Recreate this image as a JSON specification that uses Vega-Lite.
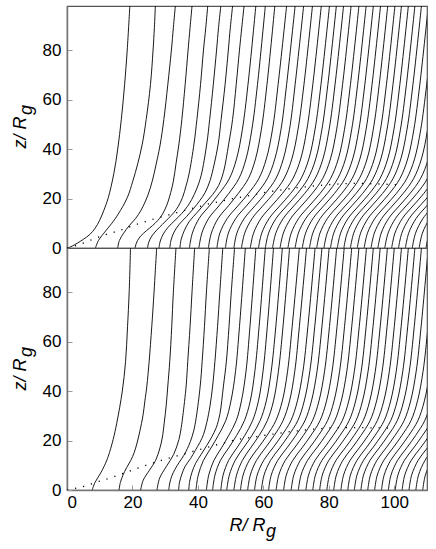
{
"$schema":"https://vega.github.io/schema/vega-lite/v6.json",
"background":"white",
"padding":{"left":10,"top":5,"right":6,"bottom":0},
"spacing":0,
"bounds":"flush",
"config":{
"font":"Liberation Sans",
"view":{"stroke":"#555","strokeWidth":1.2},
"axis":{"grid":false,"domainColor":"#777","domainWidth":1.5,"tickColor":"#999","tickSize":-5,"tickWidth":1,"labelFont":"Liberation Sans","labelFontSize":17,"labelColor":"#000","titleFont":"Liberation Sans","titleFontSize":18,"titleFontWeight":"normal","titleFontStyle":"italic","titleColor":"#000","titleLineHeight":6}
},
"datasets":{
"La":[
{"i":1,"z":0,"r":0.3},{"i":1,"z":0.8,"r":1.6},{"i":1,"z":2,"r":3.2},{"i":1,"z":3.5,"r":5.0},{"i":1,"z":5.5,"r":7.0},{"i":1,"z":8,"r":8.6},{"i":1,"z":11,"r":9.9},{"i":1,"z":15,"r":11.2},{"i":1,"z":20.3,"r":12.6},{"i":1,"z":30,"r":14.3},{"i":1,"z":40,"r":15.5},{"i":1,"z":52,"r":16.6},{"i":1,"z":66,"r":17.6},{"i":1,"z":80,"r":18.4},{"i":1,"z":97.8,"r":19.2},
{"i":2,"z":0,"r":8.7},{"i":2,"z":3,"r":9.6},{"i":2,"z":6.9,"r":11.8},{"i":2,"z":10,"r":13.7},{"i":2,"z":13.6,"r":15.6},{"i":2,"z":20.3,"r":18.4},{"i":2,"z":27,"r":20.1},{"i":2,"z":34,"r":21.6},{"i":2,"z":42,"r":23.0},{"i":2,"z":52,"r":24.2},{"i":2,"z":66,"r":25.5},{"i":2,"z":80,"r":26.3},{"i":2,"z":89,"r":26.7},{"i":2,"z":97.8,"r":27.0},
{"i":3,"z":0,"r":15.5},{"i":3,"z":3,"r":16.0},{"i":3,"z":6,"r":17.3},{"i":3,"z":9,"r":19.0},{"i":3,"z":12,"r":21.0},{"i":3,"z":15,"r":22.5},{"i":3,"z":19,"r":24.0},{"i":3,"z":24,"r":25.4},{"i":3,"z":30,"r":26.6},{"i":3,"z":36,"r":27.6},{"i":3,"z":42,"r":28.5},{"i":3,"z":52,"r":29.6},{"i":3,"z":66,"r":30.8},{"i":3,"z":80,"r":31.9},{"i":3,"z":89,"r":32.5},{"i":3,"z":97.8,"r":33.1},
{"i":4,"z":0,"r":20.8},{"i":4,"z":2,"r":21.2},{"i":4,"z":4,"r":22.0},{"i":4,"z":6,"r":23.4},{"i":4,"z":8,"r":25.2},{"i":4,"z":10,"r":26.9},{"i":4,"z":12,"r":28.3},{"i":4,"z":14,"r":29.3},{"i":4,"z":17,"r":30.4},{"i":4,"z":21,"r":31.4},{"i":4,"z":27,"r":32.5},{"i":4,"z":34,"r":33.3},{"i":4,"z":42,"r":34.2},{"i":4,"z":52,"r":35.1},{"i":4,"z":66,"r":36.1},{"i":4,"z":80,"r":37.0},{"i":4,"z":89,"r":37.6},{"i":4,"z":97.8,"r":38.2},
{"i":5,"z":0,"r":24.6},{"i":5,"z":2.4,"r":25.0},{"i":5,"z":4.8,"r":25.9},{"i":5,"z":7.2,"r":27.4},{"i":5,"z":9.6,"r":29.2},{"i":5,"z":12,"r":31.0},{"i":5,"z":14.4,"r":32.7},{"i":5,"z":16.8,"r":34.0},{"i":5,"z":20.4,"r":35.3},{"i":5,"z":25.2,"r":36.4},{"i":5,"z":30,"r":37.3},{"i":5,"z":42,"r":38.8},{"i":5,"z":52,"r":39.7},{"i":5,"z":66,"r":40.8},{"i":5,"z":80,"r":41.7},{"i":5,"z":89,"r":42.4},{"i":5,"z":97.8,"r":43.0},
{"i":6,"z":0,"r":28.1},{"i":6,"z":2.8,"r":28.5},{"i":6,"z":5.6,"r":29.4},{"i":6,"z":8.4,"r":30.9},{"i":6,"z":11.2,"r":33.0},{"i":6,"z":14,"r":35.1},{"i":6,"z":16.8,"r":36.8},{"i":6,"z":19.6,"r":38.1},{"i":6,"z":23.8,"r":39.6},{"i":6,"z":29.4,"r":41.0},{"i":6,"z":42,"r":42.7},{"i":6,"z":52,"r":43.6},{"i":6,"z":66,"r":44.7},{"i":6,"z":80,"r":45.7},{"i":6,"z":89,"r":46.3},{"i":6,"z":97.8,"r":47.0},
{"i":7,"z":0,"r":31.4},{"i":7,"z":3.2,"r":31.8},{"i":7,"z":6.4,"r":32.7},{"i":7,"z":9.6,"r":34.3},{"i":7,"z":12.8,"r":36.6},{"i":7,"z":16,"r":38.7},{"i":7,"z":19.2,"r":40.6},{"i":7,"z":22.4,"r":42.2},{"i":7,"z":27.2,"r":43.7},{"i":7,"z":34,"r":45.0},{"i":7,"z":42,"r":46.2},{"i":7,"z":52,"r":47.1},{"i":7,"z":66,"r":48.3},{"i":7,"z":80,"r":49.3},{"i":7,"z":89,"r":49.9},{"i":7,"z":97.8,"r":50.6},
{"i":8,"z":0,"r":34.5},{"i":8,"z":3.6,"r":34.9},{"i":8,"z":7.2,"r":35.9},{"i":8,"z":10.8,"r":37.4},{"i":8,"z":14.4,"r":39.8},{"i":8,"z":18,"r":42.1},{"i":8,"z":21.6,"r":44.5},{"i":8,"z":25.2,"r":46.3},{"i":8,"z":30.6,"r":47.8},{"i":8,"z":42,"r":49.4},{"i":8,"z":52,"r":50.6},{"i":8,"z":66,"r":51.7},{"i":8,"z":80,"r":52.7},{"i":8,"z":89,"r":53.4},{"i":8,"z":97.8,"r":54.1},
{"i":9,"z":0,"r":37.4},{"i":9,"z":6,"r":38.3},{"i":9,"z":12,"r":40.4},{"i":9,"z":17,"r":43.5},{"i":9,"z":22,"r":46.5},{"i":9,"z":28,"r":49.6},{"i":9,"z":36,"r":51.8},{"i":9,"z":48,"r":53.6},{"i":9,"z":66,"r":55.3},{"i":9,"z":97.8,"r":57.7},
{"i":10,"z":0,"r":40.3},{"i":10,"z":6,"r":41.2},{"i":10,"z":12,"r":43.3},{"i":10,"z":17,"r":46.4},{"i":10,"z":22,"r":49.4},{"i":10,"z":28,"r":52.5},{"i":10,"z":36,"r":54.7},{"i":10,"z":48,"r":56.5},{"i":10,"z":66,"r":58.2},{"i":10,"z":97.8,"r":60.6},
{"i":11,"z":0,"r":43.2},{"i":11,"z":6,"r":44.1},{"i":11,"z":12,"r":46.2},{"i":11,"z":17,"r":49.3},{"i":11,"z":22,"r":52.3},{"i":11,"z":28,"r":55.4},{"i":11,"z":36,"r":57.6},{"i":11,"z":48,"r":59.4},{"i":11,"z":66,"r":61.1},{"i":11,"z":97.8,"r":63.5},
{"i":12,"z":0,"r":45.8},{"i":12,"z":6,"r":46.7},{"i":12,"z":12,"r":49.0},{"i":12,"z":17,"r":52.2},{"i":12,"z":22,"r":55.4},{"i":12,"z":28,"r":58.6},{"i":12,"z":36,"r":60.9},{"i":12,"z":48,"r":62.8},{"i":12,"z":66,"r":64.5},{"i":12,"z":97.8,"r":67.1},
{"i":13,"z":0,"r":48.4},{"i":13,"z":6,"r":49.3},{"i":13,"z":12,"r":51.6},{"i":13,"z":17,"r":54.8},{"i":13,"z":22,"r":58.0},{"i":13,"z":28,"r":61.2},{"i":13,"z":36,"r":63.5},{"i":13,"z":48,"r":65.4},{"i":13,"z":66,"r":67.1},{"i":13,"z":97.8,"r":69.7},
{"i":14,"z":0,"r":51.0},{"i":14,"z":6,"r":51.9},{"i":14,"z":12,"r":54.2},{"i":14,"z":17,"r":57.4},{"i":14,"z":22,"r":60.6},{"i":14,"z":28,"r":63.8},{"i":14,"z":36,"r":66.1},{"i":14,"z":48,"r":68.0},{"i":14,"z":66,"r":69.7},{"i":14,"z":97.8,"r":72.3},
{"i":15,"z":0,"r":53.3},{"i":15,"z":6,"r":54.3},{"i":15,"z":12,"r":56.6},{"i":15,"z":17,"r":59.8},{"i":15,"z":22,"r":63.1},{"i":15,"z":28,"r":66.3},{"i":15,"z":36,"r":68.7},{"i":15,"z":48,"r":70.6},{"i":15,"z":66,"r":72.4},{"i":15,"z":97.8,"r":75.0},
{"i":16,"z":0,"r":56.0},{"i":16,"z":6,"r":57.0},{"i":16,"z":12,"r":59.3},{"i":16,"z":17,"r":62.5},{"i":16,"z":22,"r":65.8},{"i":16,"z":28,"r":69.0},{"i":16,"z":36,"r":71.4},{"i":16,"z":48,"r":73.3},{"i":16,"z":66,"r":75.1},{"i":16,"z":97.8,"r":77.7},
{"i":17,"z":0,"r":58.5},{"i":17,"z":6,"r":59.5},{"i":17,"z":12,"r":61.8},{"i":17,"z":17,"r":65.0},{"i":17,"z":22,"r":68.3},{"i":17,"z":28,"r":71.5},{"i":17,"z":36,"r":73.9},{"i":17,"z":48,"r":75.8},{"i":17,"z":66,"r":77.6},{"i":17,"z":97.8,"r":80.2},
{"i":18,"z":0,"r":60.6},{"i":18,"z":6,"r":61.6},{"i":18,"z":12,"r":63.9},{"i":18,"z":17,"r":67.1},{"i":18,"z":22,"r":70.4},{"i":18,"z":28,"r":73.6},{"i":18,"z":36,"r":76.0},{"i":18,"z":48,"r":77.9},{"i":18,"z":66,"r":79.7},{"i":18,"z":97.8,"r":82.3},
{"i":19,"z":0,"r":62.8},{"i":19,"z":6,"r":63.8},{"i":19,"z":12,"r":66.1},{"i":19,"z":17,"r":69.3},{"i":19,"z":22,"r":72.6},{"i":19,"z":28,"r":75.8},{"i":19,"z":36,"r":78.2},{"i":19,"z":48,"r":80.1},{"i":19,"z":66,"r":81.9},{"i":19,"z":97.8,"r":84.5},
{"i":20,"z":0,"r":65.1},{"i":20,"z":6,"r":66.1},{"i":20,"z":12,"r":68.4},{"i":20,"z":17,"r":71.6},{"i":20,"z":22,"r":74.9},{"i":20,"z":28,"r":78.1},{"i":20,"z":36,"r":80.5},{"i":20,"z":48,"r":82.4},{"i":20,"z":66,"r":84.2},{"i":20,"z":97.8,"r":86.8},
{"i":21,"z":0,"r":67.5},{"i":21,"z":6,"r":68.5},{"i":21,"z":12,"r":70.8},{"i":21,"z":17,"r":74.0},{"i":21,"z":22,"r":77.3},{"i":21,"z":28,"r":80.5},{"i":21,"z":36,"r":82.9},{"i":21,"z":48,"r":84.8},{"i":21,"z":66,"r":86.6},{"i":21,"z":97.8,"r":89.2},
{"i":22,"z":0,"r":69.7},{"i":22,"z":6,"r":70.7},{"i":22,"z":12,"r":73.0},{"i":22,"z":17,"r":76.2},{"i":22,"z":22,"r":79.5},{"i":22,"z":28,"r":82.7},{"i":22,"z":36,"r":85.1},{"i":22,"z":48,"r":87.0},{"i":22,"z":66,"r":88.8},{"i":22,"z":97.8,"r":91.4},
{"i":23,"z":0,"r":71.9},{"i":23,"z":6,"r":72.9},{"i":23,"z":12,"r":75.2},{"i":23,"z":17,"r":78.4},{"i":23,"z":22,"r":81.7},{"i":23,"z":28,"r":84.9},{"i":23,"z":36,"r":87.3},{"i":23,"z":48,"r":89.2},{"i":23,"z":66,"r":91.0},{"i":23,"z":97.8,"r":93.6},
{"i":24,"z":0,"r":74.1},{"i":24,"z":6,"r":75.1},{"i":24,"z":12,"r":77.4},{"i":24,"z":17,"r":80.6},{"i":24,"z":22,"r":83.9},{"i":24,"z":28,"r":87.1},{"i":24,"z":36,"r":89.5},{"i":24,"z":48,"r":91.4},{"i":24,"z":66,"r":93.2},{"i":24,"z":97.8,"r":95.8},
{"i":25,"z":0,"r":76.3},{"i":25,"z":6,"r":77.3},{"i":25,"z":12,"r":79.6},{"i":25,"z":17,"r":82.8},{"i":25,"z":22,"r":86.1},{"i":25,"z":28,"r":89.3},{"i":25,"z":36,"r":91.7},{"i":25,"z":48,"r":93.6},{"i":25,"z":66,"r":95.4},{"i":25,"z":97.8,"r":98.0},
{"i":26,"z":0,"r":78.5},{"i":26,"z":6,"r":79.5},{"i":26,"z":12,"r":81.8},{"i":26,"z":17,"r":85.0},{"i":26,"z":22,"r":88.3},{"i":26,"z":28,"r":91.5},{"i":26,"z":36,"r":93.9},{"i":26,"z":48,"r":95.8},{"i":26,"z":66,"r":97.6},{"i":26,"z":97.8,"r":100.2},
{"i":27,"z":0,"r":80.5},{"i":27,"z":6,"r":81.5},{"i":27,"z":12,"r":83.8},{"i":27,"z":17,"r":87.0},{"i":27,"z":22,"r":90.3},{"i":27,"z":28,"r":93.5},{"i":27,"z":36,"r":95.9},{"i":27,"z":48,"r":97.8},{"i":27,"z":66,"r":99.6},{"i":27,"z":97.8,"r":102.2},
{"i":28,"z":0,"r":82.6},{"i":28,"z":6,"r":83.6},{"i":28,"z":12,"r":85.9},{"i":28,"z":17,"r":89.1},{"i":28,"z":22,"r":92.4},{"i":28,"z":28,"r":95.6},{"i":28,"z":36,"r":98.0},{"i":28,"z":48,"r":99.9},{"i":28,"z":66,"r":101.7},{"i":28,"z":97.8,"r":104.3},
{"i":29,"z":0,"r":84.6},{"i":29,"z":6,"r":85.6},{"i":29,"z":12,"r":87.9},{"i":29,"z":17,"r":91.1},{"i":29,"z":22,"r":94.4},{"i":29,"z":28,"r":97.6},{"i":29,"z":36,"r":100.0},{"i":29,"z":48,"r":101.9},{"i":29,"z":66,"r":103.7},{"i":29,"z":97.8,"r":106.3},
{"i":30,"z":0,"r":86.6},{"i":30,"z":6,"r":87.6},{"i":30,"z":12,"r":89.9},{"i":30,"z":17,"r":93.1},{"i":30,"z":22,"r":96.4},{"i":30,"z":28,"r":99.6},{"i":30,"z":36,"r":102.0},{"i":30,"z":48,"r":103.9},{"i":30,"z":66,"r":105.7},{"i":30,"z":97.8,"r":108.3},
{"i":31,"z":0,"r":88.7},{"i":31,"z":6,"r":89.7},{"i":31,"z":12,"r":92.0},{"i":31,"z":17,"r":95.2},{"i":31,"z":22,"r":98.5},{"i":31,"z":28,"r":101.7},{"i":31,"z":36,"r":104.1},{"i":31,"z":48,"r":106.0},{"i":31,"z":66,"r":107.8},{"i":31,"z":97.8,"r":110.4},
{"i":32,"z":0,"r":90.8},{"i":32,"z":6,"r":91.8},{"i":32,"z":12,"r":94.1},{"i":32,"z":17,"r":97.3},{"i":32,"z":22,"r":100.6},{"i":32,"z":28,"r":103.8},{"i":32,"z":36,"r":106.2},{"i":32,"z":48,"r":108.1},{"i":32,"z":66,"r":109.9},{"i":32,"z":97.8,"r":112.5},
{"i":33,"z":0,"r":92.9},{"i":33,"z":6,"r":93.9},{"i":33,"z":12,"r":96.2},{"i":33,"z":17,"r":99.4},{"i":33,"z":22,"r":102.7},{"i":33,"z":28,"r":105.9},{"i":33,"z":36,"r":108.3},{"i":33,"z":48,"r":110.2},{"i":33,"z":66,"r":112.0},
{"i":34,"z":0,"r":95.0},{"i":34,"z":6,"r":96.0},{"i":34,"z":12,"r":98.3},{"i":34,"z":17,"r":101.5},{"i":34,"z":22,"r":104.8},{"i":34,"z":28,"r":108.0},{"i":34,"z":36,"r":110.4},{"i":34,"z":48,"r":112.3},
{"i":35,"z":0,"r":97.1},{"i":35,"z":6,"r":98.1},{"i":35,"z":12,"r":100.4},{"i":35,"z":17,"r":103.6},{"i":35,"z":22,"r":106.9},{"i":35,"z":28,"r":110.1},{"i":35,"z":36,"r":112.5},
{"i":36,"z":0,"r":99.2},{"i":36,"z":6,"r":100.2},{"i":36,"z":12,"r":102.5},{"i":36,"z":17,"r":105.7},{"i":36,"z":22,"r":109.0},{"i":36,"z":28,"r":112.2},
{"i":37,"z":0,"r":101.3},{"i":37,"z":6,"r":102.3},{"i":37,"z":12,"r":104.6},{"i":37,"z":17,"r":107.8},{"i":37,"z":22,"r":111.1},{"i":37,"z":28,"r":114.3},
{"i":38,"z":0,"r":103.4},{"i":38,"z":6,"r":104.4},{"i":38,"z":12,"r":106.7},{"i":38,"z":17,"r":109.9},{"i":38,"z":22,"r":113.2},
{"i":39,"z":0,"r":105.5},{"i":39,"z":6,"r":106.5},{"i":39,"z":12,"r":108.8},{"i":39,"z":17,"r":112.0},
{"i":40,"z":0,"r":107.6},{"i":40,"z":6,"r":108.6},{"i":40,"z":12,"r":110.9},{"i":40,"z":17,"r":114.1},
{"i":41,"z":0,"r":109.7},{"i":41,"z":6,"r":110.7},{"i":41,"z":12,"r":113.0}
],
"Lb":[
{"i":101,"z":0,"r":7.7},{"i":101,"z":2.9,"r":8.5},{"i":101,"z":6.9,"r":10.3},{"i":101,"z":10,"r":11.5},{"i":101,"z":13.6,"r":12.6},{"i":101,"z":20.4,"r":14.1},{"i":101,"z":27,"r":15.2},{"i":101,"z":40,"r":16.9},{"i":101,"z":52,"r":17.9},{"i":101,"z":66,"r":18.5},{"i":101,"z":80,"r":19.0},{"i":101,"z":97.8,"r":19.4},
{"i":102,"z":0,"r":15.9},{"i":102,"z":3,"r":16.3},{"i":102,"z":6,"r":17.1},{"i":102,"z":9,"r":18.2},{"i":102,"z":12,"r":19.5},{"i":102,"z":15,"r":20.5},{"i":102,"z":19,"r":21.4},{"i":102,"z":24,"r":22.3},{"i":102,"z":30,"r":23.2},{"i":102,"z":36,"r":23.8},{"i":102,"z":42,"r":24.4},{"i":102,"z":52,"r":25.1},{"i":102,"z":66,"r":25.9},{"i":102,"z":80,"r":26.6},{"i":102,"z":89,"r":27.0},{"i":102,"z":97.8,"r":27.4},
{"i":103,"z":0,"r":22.5},{"i":103,"z":4,"r":23.3},{"i":103,"z":8,"r":25.2},{"i":103,"z":12,"r":27.1},{"i":103,"z":17,"r":28.4},{"i":103,"z":21,"r":29.1},{"i":103,"z":27,"r":29.7},{"i":103,"z":34,"r":30.3},{"i":103,"z":42,"r":30.8},{"i":103,"z":52,"r":31.4},{"i":103,"z":66,"r":32.0},{"i":103,"z":80,"r":32.5},{"i":103,"z":97.8,"r":33.3},
{"i":104,"z":0,"r":27.5},{"i":104,"z":4.8,"r":28.3},{"i":104,"z":9.6,"r":30.4},{"i":104,"z":14.4,"r":32.6},{"i":104,"z":20.4,"r":34.2},{"i":104,"z":25.2,"r":34.9},{"i":104,"z":30,"r":35.4},{"i":104,"z":42,"r":36.4},{"i":104,"z":52,"r":36.9},{"i":104,"z":66,"r":37.6},{"i":104,"z":80,"r":38.2},{"i":104,"z":97.8,"r":39.0},
{"i":105,"z":0,"r":31.1},{"i":105,"z":2.8,"r":31.4},{"i":105,"z":5.6,"r":32.0},{"i":105,"z":8.4,"r":33.0},{"i":105,"z":11.2,"r":34.3},{"i":105,"z":14,"r":35.7},{"i":105,"z":16.8,"r":36.8},{"i":105,"z":19.6,"r":37.7},{"i":105,"z":23.8,"r":38.7},{"i":105,"z":29.4,"r":39.5},{"i":105,"z":42,"r":40.7},{"i":105,"z":52,"r":41.3},{"i":105,"z":66,"r":42.0},{"i":105,"z":80,"r":42.6},{"i":105,"z":97.8,"r":43.5},
{"i":106,"z":0,"r":34.1},{"i":106,"z":3.2,"r":34.4},{"i":106,"z":6.4,"r":35.1},{"i":106,"z":9.6,"r":36.1},{"i":106,"z":12.8,"r":37.8},{"i":106,"z":16,"r":39.2},{"i":106,"z":19.2,"r":40.6},{"i":106,"z":22.4,"r":41.7},{"i":106,"z":27.2,"r":42.7},{"i":106,"z":34,"r":43.7},{"i":106,"z":42,"r":44.5},{"i":106,"z":52,"r":45.2},{"i":106,"z":66,"r":46.0},{"i":106,"z":80,"r":46.7},{"i":106,"z":97.8,"r":47.6},
{"i":107,"z":0,"r":37.2},{"i":107,"z":3.6,"r":37.5},{"i":107,"z":7.2,"r":38.2},{"i":107,"z":10.8,"r":39.3},{"i":107,"z":14.4,"r":41.0},{"i":107,"z":18,"r":42.7},{"i":107,"z":21.6,"r":44.3},{"i":107,"z":25.2,"r":45.6},{"i":107,"z":30.6,"r":46.7},{"i":107,"z":42,"r":47.8},{"i":107,"z":52,"r":48.7},{"i":107,"z":66,"r":49.5},{"i":107,"z":80,"r":50.2},{"i":107,"z":97.8,"r":51.2},
{"i":108,"z":0,"r":39.4},{"i":108,"z":6,"r":40.1},{"i":108,"z":12,"r":41.7},{"i":108,"z":17,"r":44.0},{"i":108,"z":22,"r":46.2},{"i":108,"z":28,"r":48.5},{"i":108,"z":36,"r":50.1},{"i":108,"z":48,"r":51.5},{"i":108,"z":66,"r":52.7},{"i":108,"z":97.8,"r":54.5},
{"i":109,"z":0,"r":42.6},{"i":109,"z":6,"r":43.3},{"i":109,"z":12,"r":44.9},{"i":109,"z":17,"r":47.2},{"i":109,"z":22,"r":49.4},{"i":109,"z":28,"r":51.7},{"i":109,"z":36,"r":53.3},{"i":109,"z":48,"r":54.7},{"i":109,"z":66,"r":55.9},{"i":109,"z":97.8,"r":57.7},
{"i":110,"z":0,"r":44.5},{"i":110,"z":6,"r":45.2},{"i":110,"z":12,"r":46.9},{"i":110,"z":17,"r":49.4},{"i":110,"z":22,"r":51.8},{"i":110,"z":28,"r":54.2},{"i":110,"z":36,"r":56.0},{"i":110,"z":48,"r":57.4},{"i":110,"z":66,"r":58.7},{"i":110,"z":97.8,"r":60.6},
{"i":111,"z":0,"r":47.0},{"i":111,"z":6,"r":47.7},{"i":111,"z":12,"r":49.4},{"i":111,"z":17,"r":51.9},{"i":111,"z":22,"r":54.3},{"i":111,"z":28,"r":56.7},{"i":111,"z":36,"r":58.5},{"i":111,"z":48,"r":59.9},{"i":111,"z":66,"r":61.2},{"i":111,"z":97.8,"r":63.1},
{"i":112,"z":0,"r":48.8},{"i":112,"z":6,"r":49.6},{"i":112,"z":12,"r":51.4},{"i":112,"z":17,"r":53.9},{"i":112,"z":22,"r":56.5},{"i":112,"z":28,"r":59.0},{"i":112,"z":36,"r":60.9},{"i":112,"z":48,"r":62.4},{"i":112,"z":66,"r":63.8},{"i":112,"z":97.8,"r":65.8},
{"i":113,"z":0,"r":51.0},{"i":113,"z":6,"r":51.8},{"i":113,"z":12,"r":53.6},{"i":113,"z":17,"r":56.1},{"i":113,"z":22,"r":58.7},{"i":113,"z":28,"r":61.2},{"i":113,"z":36,"r":63.1},{"i":113,"z":48,"r":64.6},{"i":113,"z":66,"r":66.0},{"i":113,"z":97.8,"r":68.0},
{"i":114,"z":0,"r":53.0},{"i":114,"z":6,"r":53.8},{"i":114,"z":12,"r":55.7},{"i":114,"z":17,"r":58.4},{"i":114,"z":22,"r":61.1},{"i":114,"z":28,"r":63.8},{"i":114,"z":36,"r":65.8},{"i":114,"z":48,"r":67.4},{"i":114,"z":66,"r":68.8},{"i":114,"z":97.8,"r":71.0},
{"i":115,"z":0,"r":55.2},{"i":115,"z":6,"r":56.0},{"i":115,"z":12,"r":57.9},{"i":115,"z":17,"r":60.6},{"i":115,"z":22,"r":63.3},{"i":115,"z":28,"r":66.0},{"i":115,"z":36,"r":68.0},{"i":115,"z":48,"r":69.6},{"i":115,"z":66,"r":71.0},{"i":115,"z":97.8,"r":73.2},
{"i":116,"z":0,"r":57.3},{"i":116,"z":6,"r":58.1},{"i":116,"z":12,"r":60.1},{"i":116,"z":17,"r":62.9},{"i":116,"z":22,"r":65.6},{"i":116,"z":28,"r":68.4},{"i":116,"z":36,"r":70.4},{"i":116,"z":48,"r":72.1},{"i":116,"z":66,"r":73.6},{"i":116,"z":97.8,"r":75.8},
{"i":117,"z":0,"r":59.4},{"i":117,"z":6,"r":60.2},{"i":117,"z":12,"r":62.2},{"i":117,"z":17,"r":65.0},{"i":117,"z":22,"r":67.7},{"i":117,"z":28,"r":70.5},{"i":117,"z":36,"r":72.5},{"i":117,"z":48,"r":74.2},{"i":117,"z":66,"r":75.7},{"i":117,"z":97.8,"r":77.9},
{"i":118,"z":0,"r":61.6},{"i":118,"z":6,"r":62.4},{"i":118,"z":12,"r":64.4},{"i":118,"z":17,"r":67.2},{"i":118,"z":22,"r":69.9},{"i":118,"z":28,"r":72.7},{"i":118,"z":36,"r":74.7},{"i":118,"z":48,"r":76.4},{"i":118,"z":66,"r":77.9},{"i":118,"z":97.8,"r":80.1},
{"i":119,"z":0,"r":63.9},{"i":119,"z":6,"r":64.7},{"i":119,"z":12,"r":66.7},{"i":119,"z":17,"r":69.5},{"i":119,"z":22,"r":72.2},{"i":119,"z":28,"r":75.0},{"i":119,"z":36,"r":77.0},{"i":119,"z":48,"r":78.7},{"i":119,"z":66,"r":80.2},{"i":119,"z":97.8,"r":82.4},
{"i":120,"z":0,"r":66.2},{"i":120,"z":6,"r":67.0},{"i":120,"z":12,"r":69.0},{"i":120,"z":17,"r":71.8},{"i":120,"z":22,"r":74.5},{"i":120,"z":28,"r":77.3},{"i":120,"z":36,"r":79.3},{"i":120,"z":48,"r":81.0},{"i":120,"z":66,"r":82.5},{"i":120,"z":97.8,"r":84.7},
{"i":121,"z":0,"r":68.5},{"i":121,"z":6,"r":69.3},{"i":121,"z":12,"r":71.3},{"i":121,"z":17,"r":74.1},{"i":121,"z":22,"r":76.8},{"i":121,"z":28,"r":79.6},{"i":121,"z":36,"r":81.6},{"i":121,"z":48,"r":83.3},{"i":121,"z":66,"r":84.8},{"i":121,"z":97.8,"r":87.0},
{"i":122,"z":0,"r":70.7},{"i":122,"z":6,"r":71.5},{"i":122,"z":12,"r":73.5},{"i":122,"z":17,"r":76.3},{"i":122,"z":22,"r":79.0},{"i":122,"z":28,"r":81.8},{"i":122,"z":36,"r":83.8},{"i":122,"z":48,"r":85.5},{"i":122,"z":66,"r":87.0},{"i":122,"z":97.8,"r":89.2},
{"i":123,"z":0,"r":73.0},{"i":123,"z":6,"r":73.8},{"i":123,"z":12,"r":75.8},{"i":123,"z":17,"r":78.6},{"i":123,"z":22,"r":81.3},{"i":123,"z":28,"r":84.1},{"i":123,"z":36,"r":86.1},{"i":123,"z":48,"r":87.8},{"i":123,"z":66,"r":89.3},{"i":123,"z":97.8,"r":91.5},
{"i":124,"z":0,"r":75.1},{"i":124,"z":6,"r":75.9},{"i":124,"z":12,"r":77.9},{"i":124,"z":17,"r":80.7},{"i":124,"z":22,"r":83.4},{"i":124,"z":28,"r":86.2},{"i":124,"z":36,"r":88.2},{"i":124,"z":48,"r":89.9},{"i":124,"z":66,"r":91.4},{"i":124,"z":97.8,"r":93.6},
{"i":125,"z":0,"r":77.2},{"i":125,"z":6,"r":78.0},{"i":125,"z":12,"r":80.0},{"i":125,"z":17,"r":82.8},{"i":125,"z":22,"r":85.5},{"i":125,"z":28,"r":88.3},{"i":125,"z":36,"r":90.3},{"i":125,"z":48,"r":92.0},{"i":125,"z":66,"r":93.5},{"i":125,"z":97.8,"r":95.7},
{"i":126,"z":0,"r":79.4},{"i":126,"z":6,"r":80.2},{"i":126,"z":12,"r":82.2},{"i":126,"z":17,"r":85.0},{"i":126,"z":22,"r":87.7},{"i":126,"z":28,"r":90.5},{"i":126,"z":36,"r":92.5},{"i":126,"z":48,"r":94.2},{"i":126,"z":66,"r":95.7},{"i":126,"z":97.8,"r":97.9},
{"i":127,"z":0,"r":81.5},{"i":127,"z":6,"r":82.3},{"i":127,"z":12,"r":84.3},{"i":127,"z":17,"r":87.1},{"i":127,"z":22,"r":89.8},{"i":127,"z":28,"r":92.6},{"i":127,"z":36,"r":94.6},{"i":127,"z":48,"r":96.3},{"i":127,"z":66,"r":97.8},{"i":127,"z":97.8,"r":100.0},
{"i":128,"z":0,"r":83.7},{"i":128,"z":6,"r":84.5},{"i":128,"z":12,"r":86.5},{"i":128,"z":17,"r":89.3},{"i":128,"z":22,"r":92.0},{"i":128,"z":28,"r":94.8},{"i":128,"z":36,"r":96.8},{"i":128,"z":48,"r":98.5},{"i":128,"z":66,"r":100.0},{"i":128,"z":97.8,"r":102.2},
{"i":129,"z":0,"r":85.8},{"i":129,"z":6,"r":86.6},{"i":129,"z":12,"r":88.6},{"i":129,"z":17,"r":91.4},{"i":129,"z":22,"r":94.1},{"i":129,"z":28,"r":96.9},{"i":129,"z":36,"r":98.9},{"i":129,"z":48,"r":100.6},{"i":129,"z":66,"r":102.1},{"i":129,"z":97.8,"r":104.3},
{"i":130,"z":0,"r":87.8},{"i":130,"z":6,"r":88.6},{"i":130,"z":12,"r":90.6},{"i":130,"z":17,"r":93.4},{"i":130,"z":22,"r":96.1},{"i":130,"z":28,"r":98.9},{"i":130,"z":36,"r":100.9},{"i":130,"z":48,"r":102.6},{"i":130,"z":66,"r":104.1},{"i":130,"z":97.8,"r":106.3},
{"i":131,"z":0,"r":89.8},{"i":131,"z":6,"r":90.6},{"i":131,"z":12,"r":92.6},{"i":131,"z":17,"r":95.4},{"i":131,"z":22,"r":98.1},{"i":131,"z":28,"r":100.9},{"i":131,"z":36,"r":102.9},{"i":131,"z":48,"r":104.6},{"i":131,"z":66,"r":106.1},{"i":131,"z":97.8,"r":108.3},
{"i":132,"z":0,"r":91.9},{"i":132,"z":6,"r":92.7},{"i":132,"z":12,"r":94.7},{"i":132,"z":17,"r":97.5},{"i":132,"z":22,"r":100.2},{"i":132,"z":28,"r":103.0},{"i":132,"z":36,"r":105.0},{"i":132,"z":48,"r":106.7},{"i":132,"z":66,"r":108.2},{"i":132,"z":97.8,"r":110.4},
{"i":133,"z":0,"r":94.0},{"i":133,"z":6,"r":94.8},{"i":133,"z":12,"r":96.8},{"i":133,"z":17,"r":99.6},{"i":133,"z":22,"r":102.3},{"i":133,"z":28,"r":105.1},{"i":133,"z":36,"r":107.1},{"i":133,"z":48,"r":108.8},{"i":133,"z":66,"r":110.3},{"i":133,"z":97.8,"r":112.5},
{"i":134,"z":0,"r":96.1},{"i":134,"z":6,"r":96.9},{"i":134,"z":12,"r":98.9},{"i":134,"z":17,"r":101.7},{"i":134,"z":22,"r":104.4},{"i":134,"z":28,"r":107.2},{"i":134,"z":36,"r":109.2},{"i":134,"z":48,"r":110.9},{"i":134,"z":66,"r":112.4},
{"i":135,"z":0,"r":98.2},{"i":135,"z":6,"r":99.0},{"i":135,"z":12,"r":101.0},{"i":135,"z":17,"r":103.8},{"i":135,"z":22,"r":106.5},{"i":135,"z":28,"r":109.3},{"i":135,"z":36,"r":111.3},{"i":135,"z":48,"r":113.0},
{"i":136,"z":0,"r":100.3},{"i":136,"z":6,"r":101.1},{"i":136,"z":12,"r":103.1},{"i":136,"z":17,"r":105.9},{"i":136,"z":22,"r":108.6},{"i":136,"z":28,"r":111.4},{"i":136,"z":36,"r":113.4},
{"i":137,"z":0,"r":102.4},{"i":137,"z":6,"r":103.2},{"i":137,"z":12,"r":105.2},{"i":137,"z":17,"r":108.0},{"i":137,"z":22,"r":110.7},{"i":137,"z":28,"r":113.5},
{"i":138,"z":0,"r":104.5},{"i":138,"z":6,"r":105.3},{"i":138,"z":12,"r":107.3},{"i":138,"z":17,"r":110.1},{"i":138,"z":22,"r":112.8},
{"i":139,"z":0,"r":106.6},{"i":139,"z":6,"r":107.4},{"i":139,"z":12,"r":109.4},{"i":139,"z":17,"r":112.2},
{"i":140,"z":0,"r":108.7},{"i":140,"z":6,"r":109.5},{"i":140,"z":12,"r":111.5},{"i":140,"z":17,"r":114.3}
],
"Da":[
{"r":0,"z":0},{"r":3,"z":1.1},{"r":5.2,"z":2.1},{"r":8.2,"z":3.7},{"r":12.5,"z":5.7},{"r":15.9,"z":7.0},{"r":18.9,"z":8.4},{"r":21.4,"z":9.6},{"r":24,"z":10.7},{"r":27,"z":11.9},{"r":30.1,"z":13.0},{"r":33,"z":14.1},{"r":36,"z":15.2},{"r":39.7,"z":16.5},{"r":43.3,"z":17.8},{"r":47.3,"z":19.0},{"r":50.9,"z":20.0},{"r":54.9,"z":21.0},{"r":58.5,"z":22.0},{"r":62,"z":22.8},{"r":66.7,"z":23.7},{"r":70.7,"z":24.4},{"r":74.3,"z":24.9},{"r":77.3,"z":25.3},{"r":83.4,"z":25.9},{"r":89,"z":26.1},{"r":94.6,"z":25.9},{"r":100.7,"z":25.6}
],
"Db":[
{"r":0,"z":0},{"r":1.6,"z":0.4},{"r":5.2,"z":1.5},{"r":7.7,"z":2.6},{"r":9.8,"z":3.5},{"r":12.8,"z":4.7},{"r":15.9,"z":6.1},{"r":18.9,"z":7.5},{"r":21.4,"z":8.7},{"r":24,"z":9.9},{"r":27,"z":11.2},{"r":30.1,"z":12.5},{"r":33.1,"z":13.6},{"r":36.2,"z":14.7},{"r":39.2,"z":15.9},{"r":42.3,"z":17.0},{"r":45.3,"z":18.1},{"r":48.4,"z":19.2},{"r":51.4,"z":20.2},{"r":54.5,"z":20.9},{"r":58,"z":21.6},{"r":61,"z":22.2},{"r":64.1,"z":22.8},{"r":67.2,"z":23.4},{"r":71.7,"z":24.1},{"r":75.3,"z":24.6},{"r":78.4,"z":24.9},{"r":83.4,"z":25.2},{"r":88.5,"z":25.2},{"r":94.6,"z":25.1},{"r":98.7,"z":25.0}
]
},
"vconcat":[
{"width":360,"height":242,
"layer":[
{"data":{"name":"La"},
"mark":{"type":"line","interpolate":"catmull-rom","color":"#000","strokeWidth":0.9,"clip":true},
"encoding":{
"x":{"field":"r","type":"quantitative","scale":{"domain":[0,110],"nice":false,"zero":false},"axis":null},
"y":{"field":"z","type":"quantitative","scale":{"domain":[0,97.8],"nice":false},"axis":{"values":[0,20,40,60,80],"labelPadding":11,"title":["z/ R","\u200b\u00a0\u00a0\u00a0\u00a0\u00a0\u00a0\u2009g"],"titleAlign":"left","titleY":142,"titlePadding":7}},
"detail":{"field":"i","type":"nominal"},
"order":{"field":"z","type":"quantitative"}}},
{"data":{"name":"Da"},
"mark":{"type":"line","interpolate":"monotone","color":"#000","strokeWidth":1.3,"strokeDash":[1.2,7],"clip":true},
"encoding":{
"x":{"field":"r","type":"quantitative"},
"y":{"field":"z","type":"quantitative"},
"order":{"field":"r","type":"quantitative"}}}
]},
{"width":360,"height":242,
"layer":[
{"data":{"name":"Lb"},
"mark":{"type":"line","interpolate":"catmull-rom","color":"#000","strokeWidth":0.9,"clip":true},
"encoding":{
"x":{"field":"r","type":"quantitative","scale":{"domain":[0,110],"nice":false,"zero":false},"axis":{"values":[0,20,40,60,80,100],"labelPadding":9,"title":["R/ R","\u200b\u00a0\u00a0\u00a0\u00a0\u00a0\u00a0\u00a0\u200ag"],"titleAlign":"left","titleX":162,"titlePadding":6}},
"y":{"field":"z","type":"quantitative","scale":{"domain":[0,97.8],"nice":false},"axis":{"values":[0,20,40,60,80],"labelPadding":11,"title":["z/ R","\u200b\u00a0\u00a0\u00a0\u00a0\u00a0\u00a0\u2009g"],"titleAlign":"left","titleY":142,"titlePadding":7}},
"detail":{"field":"i","type":"nominal"},
"order":{"field":"z","type":"quantitative"}}},
{"data":{"name":"Db"},
"mark":{"type":"line","interpolate":"monotone","color":"#000","strokeWidth":1.3,"strokeDash":[1.2,7],"clip":true},
"encoding":{
"x":{"field":"r","type":"quantitative"},
"y":{"field":"z","type":"quantitative"},
"order":{"field":"r","type":"quantitative"}}}
]}
]
}
